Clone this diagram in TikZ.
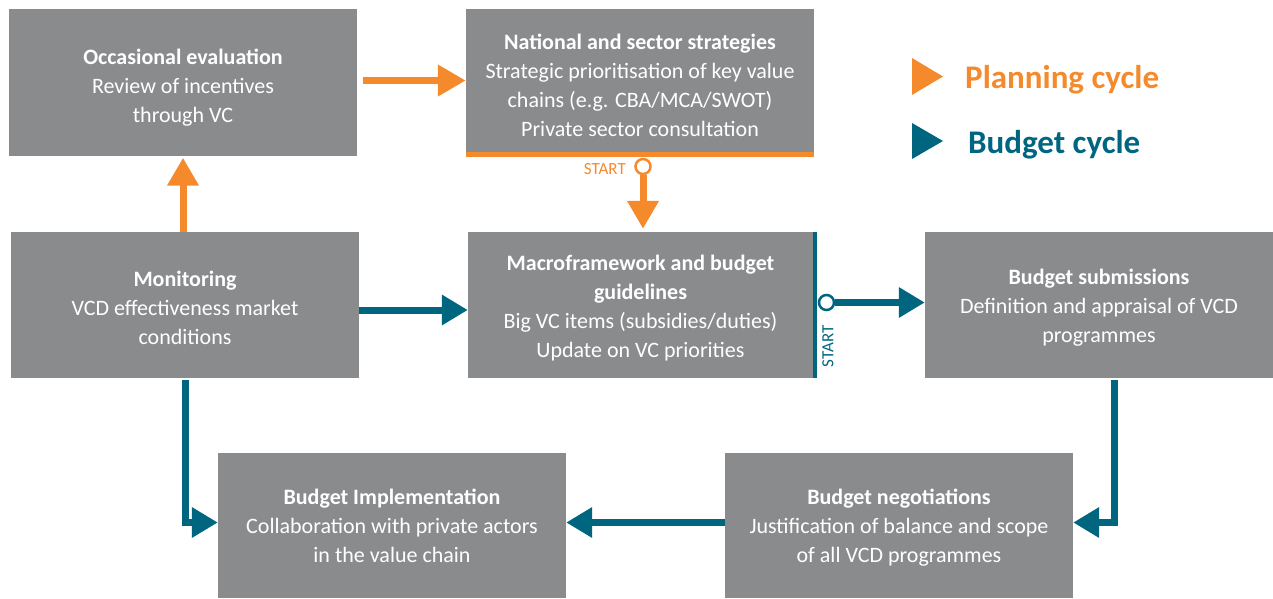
\documentclass[tikz,border=0pt]{standalone}
\usepackage{fontspec}
\setmainfont{Carlito}
\usetikzlibrary{arrows.meta,calc}
\definecolor{boxgray}{HTML}{8A8B8D}
\definecolor{planorange}{HTML}{F58A2C}
\definecolor{budgetteal}{HTML}{006680}

\tikzset{
  stage/.style={fill=boxgray, inner sep=0pt, minimum width=348pt, minimum height=146pt},
  stagetext/.style={text=white, align=center, inner sep=0pt, font=\fontsize{22}{29}\selectfont},
  planarrow/.style={draw=planorange, line width=7pt, -{Triangle[length=28pt,width=30pt]}},
  budgetarrow/.style={draw=budgetteal, line width=7pt, -{Triangle[length=26pt,width=29pt]}},
  startdot/.style={circle, fill=white, line width=2.5pt, minimum size=15pt, inner sep=0pt},
  startlabel/.style={font=\fontsize{17}{17}\selectfont, inner sep=0pt},
  legendlabel/.style={font=\fontsize{33}{33}\selectfont\bfseries, anchor=west, inner sep=0pt}
}

\begin{document}
\begin{tikzpicture}[x=1pt,y=-1pt]
    \useasboundingbox (0,0) rectangle (1273,599);

    % boxes
    \node [stage] (occ) at (183,82.5) {};
    \node [stage, minimum height=143pt] (nat) at (640,80.5) {};
    \node [stage] (mon) at (185,305) {};
    \node [stage, minimum width=345pt] (macro) at (640.5,305) {};
    \node [stage] (subm) at (1099,305) {};
    \node [stage, minimum height=145pt] (impl) at (392,525.5) {};
    \node [stage, minimum height=145pt] (nego) at (899,525.5) {};

    % box texts
    \node [stagetext] (occtext) at ($(occ)+(0,5)$) {\textbf{Occasional evaluation}\\Review of incentives\\through VC};
    \node [stagetext] (nattext) at ($(nat)+(0,5)$) {\textbf{National and sector strategies}\\Strategic prioritisation of key value\\chains (e.g. CBA/MCA/SWOT)\\Private sector consultation};
    \node [stagetext] (montext) at ($(mon)+(0,3)$) {\textbf{Monitoring}\\VCD effectiveness market\\conditions};
    \node [stagetext] (macrotext) at ($(macro)+(0,3)$) {\textbf{Macroframework and budget}\\\textbf{guidelines}\\Big VC items (subsidies/duties)\\Update on VC priorities};
    \node [stagetext] (submtext) at ($(subm)+(0,3)$) {\textbf{Budget submissions}\\Definition and appraisal of VCD\\programmes};
    \node [stagetext] (impltext) at (impl) {\textbf{Budget Implementation}\\Collaboration with private actors\\in the value chain};
    \node [stagetext] (negotext) at ($(nego)+(0,2)$) {\textbf{Budget negotiations}\\Justification of balance and scope\\of all VCD programmes};

    % coloured edges
    \draw [planorange, line width=5pt] ([yshift=-2.5pt]nat.south west) -- ([yshift=-2.5pt]nat.south east);
    \draw [budgetteal, line width=4pt] ([xshift=2pt]macro.north east) -- ([xshift=2pt]macro.south east);

    % planning cycle
    \draw [planarrow, shorten <=6pt] (occ.east |- nat.west) -- (nat.west);
    \draw [planarrow, shorten >=2pt] (occ.south |- mon.north) -- (occ.south);
    \node [startdot, draw=planorange] (pstart) at (643,166.5) {};
    \node [startlabel, text=planorange, anchor=east] (plabel) at (626,169.5) {START};
    \draw [planarrow, shorten >=3pt] (pstart.south) -- (pstart.south |- macro.north);

    % budget cycle
    \node [startdot, draw=budgetteal] (bstart) at (826.5,302.5) {};
    \node [startlabel, text=budgetteal, rotate=90, anchor=east] (blabel) at (828,325) {START};
    \draw [budgetarrow] (bstart.east) -- (subm.west |- bstart.east);
    \draw [budgetarrow] ($(mon.east)+(0,5)$) -- ($(macro.west)+(0,5)$);
    \draw [budgetarrow, shorten <=2pt] (mon.south) |- ($(impl.west)+(0,-3)$);
    \draw [budgetarrow, shorten <=2pt] ($(subm.south)+(15,0)$) |- ($(nego.east)+(0,-3)$);
    \draw [budgetarrow] ($(nego.west)+(0,-3)$) -- ($(impl.east)+(0,-3)$);

    % legend
    \fill [planorange] (912,58) -- (943,76.5) -- (912,95) -- cycle;
    \fill [budgetteal] (912,123) -- (943,141) -- (912,159) -- cycle;
    \node [legendlabel, text=planorange] (lplan) at (965,80) {Planning cycle};
    \node [legendlabel, text=budgetteal] (lbudget) at (968,145) {Budget cycle};
\end{tikzpicture}
\end{document}
